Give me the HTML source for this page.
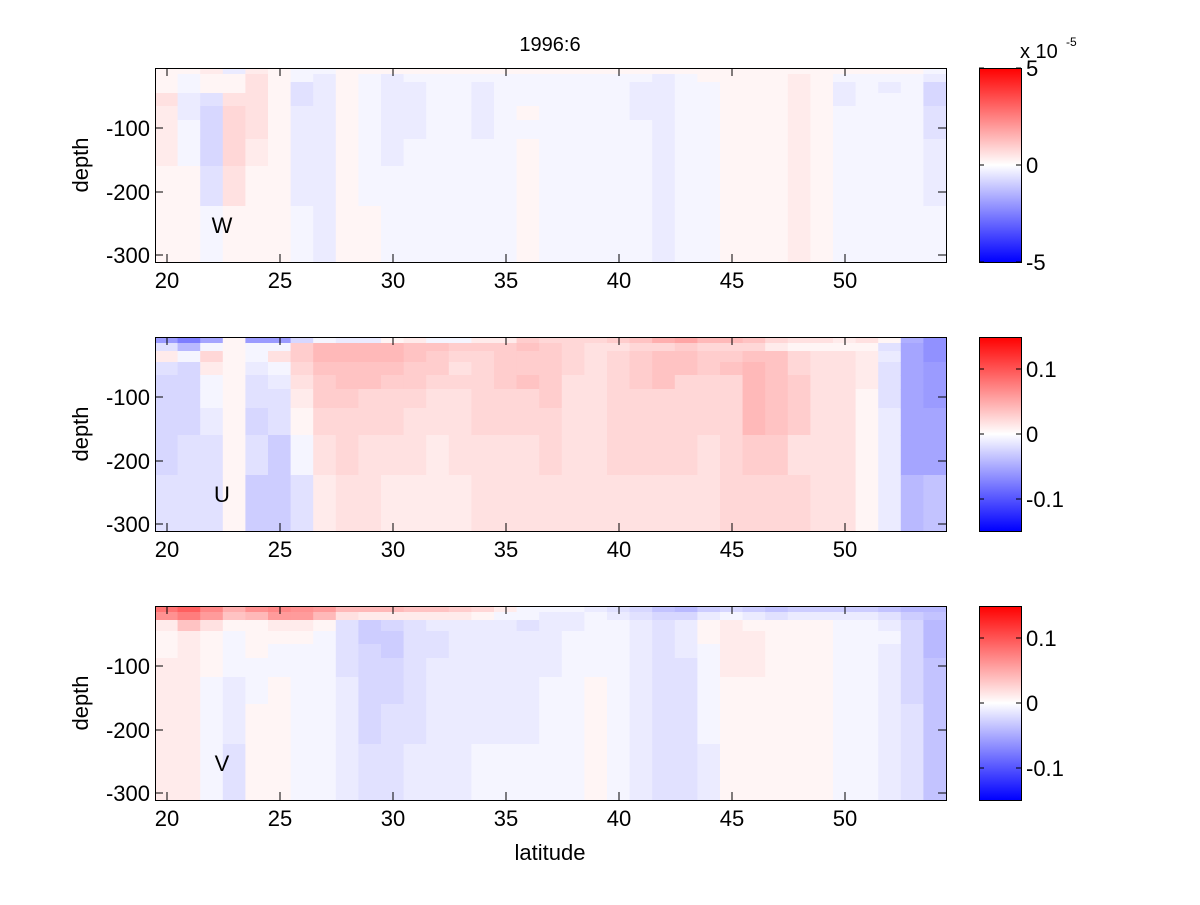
<!DOCTYPE html>
<html><head><meta charset="utf-8"><style>
html,body{margin:0;padding:0;background:#fff;}
svg text{font-family:"Liberation Sans",sans-serif;fill:#000;}
</style></head><body>
<svg id="s" width="1200" height="900" xmlns="http://www.w3.org/2000/svg">
<defs><linearGradient id="cb" x1="0" y1="0" x2="0" y2="1">
<stop offset="0" stop-color="#ff0000"/><stop offset="0.5" stop-color="#ffffff"/><stop offset="1" stop-color="#0000ff"/></linearGradient></defs>
<g id="cells"></g>
<g id="axes" fill="none" stroke="#000" stroke-width="1"></g>
<g id="txt" font-size="22"></g>
<text x="550" y="51" font-size="20" text-anchor="middle">1996:6</text>
<text x="550" y="860" font-size="22" text-anchor="middle">latitude</text>
<text x="1020" y="58" font-size="20">x 10</text>
<text x="1066" y="46" font-size="12">-5</text>
</svg>
<script>
var P1=["111322211","1aabbaa11","211cdddca","b11344431","233333211","111111111","aaccbbbba","abbbbbbbb","111111111","1aaaaaaa1","1bbbbbbaa","1abbbbaaa","1aaaaaaaa","1aaaaaaaa","1abbbbaaa","1aaaaaaaa","1aaa1a111","1aaaaaaaa","1aaaaaaaa","1aaaaaaaa","1aaaaaaaa","1abbbaaaa","1bbbbbbbb","1aaaaaaaa","11aaaaaaa","111111111","111111111","111111111","122222222","111111111","1abbaaaaa","1aaaaaaaa","1abaaaaaa","1aaaaaaaa","abddccbba"];
var P2=["jc2cddddc","mgaddddcc","ia42aabcc","111111111","jaabccdce","ja3abccee","d554321ac","a77655432","b77665443","b77664433","177654432","266554332","a65543322","a54343332","254444433","255554433","565564433","455555443","444433333","433333333","534444443","645554443","846664443","956644443","745544433","745644444","646777754","426666654","314455534","313333333","213333333","312221111","1cbcccbbb","hiiiiiiig","kkkjjjiif"];
var P3=["EB2112222","GD6222222","CA3111aaa","861aaabbc","B7111aa11","CA21aa111","BA21aaaaa","A71aaaaaa","73ccccbbb","72eeddddc","72deeddcc","62ccccccb","62bccbbbb","52bbbbbbb","41bbbbbba","2abbbbbba","aacbbbbba","abbbbbaaa","abbaaaaaa","baaaaa111","cbaaaaaaa","dcbbbbbbb","fdccccccc","gdbbbcccc","eb11aaaab","da2222111","eb1222111","fc1111111","eb1111111","eb1111111","ebaaaaaaa","ebaaaaaaa","fcbabbbbb","gedddddcc","gfgggffff"];
function val(ch){if(ch==='0')return 0;if(ch>='1'&&ch<='9')return +ch;if(ch>='A'&&ch<='H')return 10+ch.charCodeAt(0)-65;if(ch>='a'&&ch<='z')return -(ch.charCodeAt(0)-96);return 0;}
function col(v){var k=Math.max(0,Math.min(255,255-10*Math.abs(v)));return v>=0?'rgb(255,'+k+','+k+')':'rgb('+k+','+k+',255)';}
var offs=[0,6,14,25,38,52,71,98,138,194];
var tops=[68,337,606],L=155,R=946,H=194,cw=(R-L)/35;
var cells='',ax='',tx='';
[P1,P2,P3].forEach(function(P,pi){var t=tops[pi];
 for(var i=0;i<35;i++){var s=P[i]||"";for(var r=0;r<9;r++){var v=val(s[r]||'0');
  var x=L+i*cw,y=t+offs[r];cells+='<rect x="'+x.toFixed(2)+'" y="'+y+'" width="'+(cw+0.6).toFixed(2)+'" height="'+(offs[r+1]-offs[r]+0.5)+'" fill="'+col(v)+'"/>';}}
 ax+='<rect x="'+(L+0.5)+'" y="'+(t+0.5)+'" width="'+(R-L)+'" height="'+H+'"/>';
 for(var d=20;d<=50;d+=5){var x=167+(d-20)*22.6;ax+='<path d="M'+x+' '+(t+H)+'v-8M'+x+' '+t+'v8"/>';
  tx+='<text x="'+x+'" y="'+(t+H+26)+'" text-anchor="middle">'+d+'</text>';}
 [[-100,60],[-200,124],[-300,187]].forEach(function(a){var y=t+a[1];ax+='<path d="M'+L+' '+y+'h8M'+R+' '+y+'h-8"/>';
  tx+='<text x="150" y="'+(y+8)+'" text-anchor="end">'+a[0]+'</text>';});
 tx+='<text x="88" y="'+(t+97)+'" font-size="22" text-anchor="middle" transform="rotate(-90 88 '+(t+97)+')">depth</text>';
 tx+='<text x="222" y="'+(t+165)+'" text-anchor="middle">'+['W','U','V'][pi]+'</text>';
 cells+='<rect x="979" y="'+t+'" width="42" height="'+H+'" fill="url(#cb)"/>';
 ax+='<rect x="979.5" y="'+(t+0.5)+'" width="42" height="'+H+'"/>';
 var labs=pi==0?[[0,'5'],[97,'0'],[194,'-5']]:[[32,'0.1'],[97,'0'],[162,'-0.1']];
 labs.forEach(function(a){var y=t+a[0];ax+='<path d="M979 '+y+'h5M1021 '+y+'h-5"/>';
  tx+='<text x="1026" y="'+(y+8)+'">'+a[1]+'</text>';});
});
document.getElementById('cells').innerHTML=cells;
document.getElementById('axes').innerHTML=ax;
document.getElementById('txt').innerHTML=tx;
</script>
</body></html>
